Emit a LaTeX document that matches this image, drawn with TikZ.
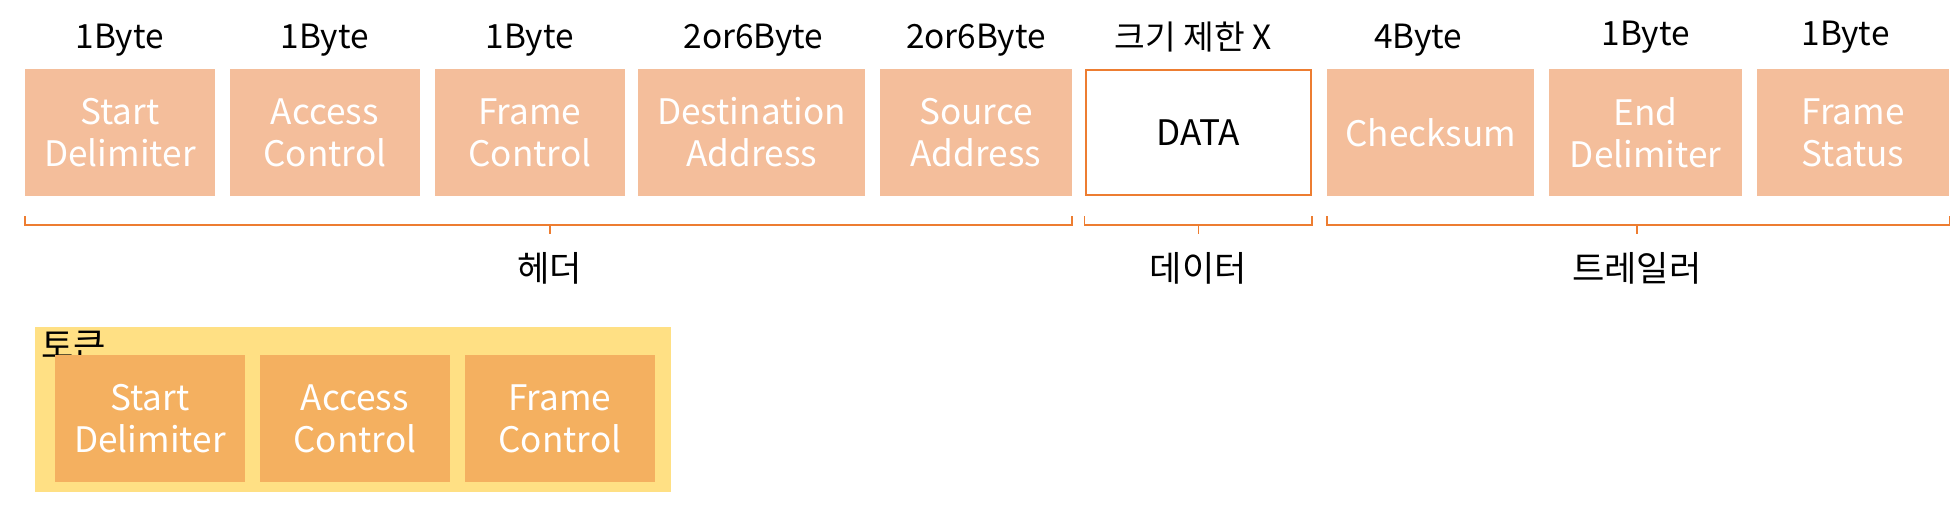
\documentclass[tikz,border=0pt]{standalone}
\usepackage{fontspec}
\setmainfont{Noto Sans CJK KR}
\usepackage{tikz}
\usetikzlibrary{positioning,calc}
\definecolor{fieldorange}{HTML}{F4BE9B}
\definecolor{lineorange}{HTML}{ED7D31}
\definecolor{tokenorange}{HTML}{F4B060}
\definecolor{tokenyellow}{HTML}{FFE084}
\tikzset{
  field/.style={fill=fieldorange, text=white, align=center, minimum height=2.55cm,
    inner sep=0pt, font=\fontsize{20}{24}\selectfont},
  datafield/.style={field, fill=white, draw=lineorange, line width=1pt, text=black},
  tokenfield/.style={field, fill=tokenorange},
  size/.style={font=\fontsize{19}{22}\selectfont, inner sep=0pt},
  part/.style={font=\fontsize{20}{24}\selectfont, inner sep=0pt},
  bracket/.style={draw=lineorange, line width=0.8pt}
}
\begin{document}
\begin{tikzpicture}[x=0.025cm,y=0.025cm]
    \useasboundingbox (0,0) rectangle (1563,405);
    % Frame fields
    \node[field, minimum width=3.8cm]  (sd)  at (96,299)   {Start\\Delimiter};
    \node[field, minimum width=3.8cm]  (ac)  at (260,299)  {Access\\Control};
    \node[field, minimum width=3.8cm]  (fc)  at (424,299)  {Frame\\Control};
    \node[field, minimum width=4.525cm] (da) at (601.5,299) {Destination\\Address};
    \node[field, minimum width=3.85cm] (sa)  at (781,299)  {Source\\Address};
    \node[datafield, minimum width=4.5cm, minimum height=2.5cm] (data) at (959,299) {DATA};
    \node[field, minimum width=4.15cm] (cs)  at (1145,299) {Checksum};
    \node[field, minimum width=3.85cm] (ed)  at (1317,299) {End\\Delimiter};
    \node[field, minimum width=3.85cm] (fs)  at (1483,299) {Frame\\Status};

    % Sizes
    \node[size] at (96,373)   {1Byte};
    \node[size] at (260,373)  {1Byte};
    \node[size] at (424,373)  {1Byte};
    \node[size] at (603,373)  {2or6Byte};
    \node[size] at (781,373)  {2or6Byte};
    \node[size] at (955,375)  {크기 제한 X};
    \node[size] at (1135,373) {4Byte};
    \node[size] at (1317,375) {1Byte};
    \node[size] at (1477,375) {1Byte};

    % Brackets
    \coordinate (hl) at (20,225);   \coordinate (hr) at (858,225);
    \coordinate (dl) at (868,225);  \coordinate (dr) at (1050,225);
    \coordinate (tl) at (1062,225); \coordinate (tr) at (1560,225);
    \draw[bracket] ($(hl)+(0,7)$) -- (hl) -- (hr) -- ++(0,7) (440,225) -- ++(0,-7);
    \draw[bracket] ($(dl)+(0,7)$) -- (dl) -- (dr) -- ++(0,7) (959,225) -- ++(0,-7);
    \draw[bracket] ($(tl)+(0,7)$) -- (tl) -- (tr) -- ++(0,7) (1310,225) -- ++(0,-7);
    \node[part] (header)  at (440,190)  {헤더};
    \node[part] (payload) at (959,190)  {데이터};
    \node[part] (trailer) at (1310,190) {트레일러};

    % Token
    \fill[tokenyellow] (28,11) rectangle (537,143);
    \node[part, anchor=west] (token) at (33,128) {토큰};
    \node[tokenfield, minimum width=3.8cm] (tsd) at (120,70) {Start\\Delimiter};
    \node[tokenfield, minimum width=3.8cm] (tac) at (284,70) {Access\\Control};
    \node[tokenfield, minimum width=3.8cm] (tfc) at (448,70) {Frame\\Control};
\end{tikzpicture}
\end{document}
